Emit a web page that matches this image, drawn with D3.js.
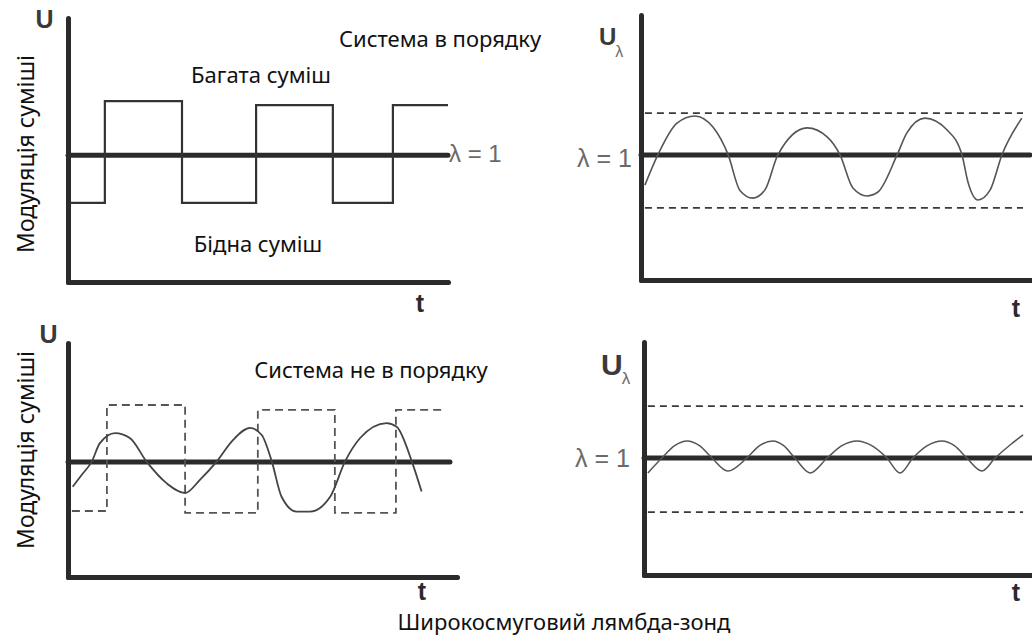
<!DOCTYPE html>
<html>
<head>
<meta charset="utf-8">
<script src="https://cdn.jsdelivr.net/npm/d3@7"></script>
<style>
  html, body { margin: 0; background: #fff; }
  svg { display: block; }
</style>
</head>
<body>
<svg id="chart" width="1032" height="637"></svg>
<script>
// ---- Data (t and U in relative units, 0..10 on each axis) ----

// Mixture control signal, system OK: rich / lean steps
const okMixture = [[0.05,3.0],[0.97,3.0],[0.97,6.85],[3.0,6.85],[3.0,3.0],[4.95,3.0],[4.95,6.7],
                   [6.97,6.7],[6.97,3.0],[8.55,3.0],[8.55,6.7],[10,6.7]];

// Sensor voltage, system OK: full swing between the limits
const okSensor = [[0.10,3.58],[0.43,4.72],[0.92,5.92],[1.38,6.19],[1.84,5.77],[2.23,4.72],[2.53,3.38],
                  [2.86,3.09],[3.17,3.40],[3.50,4.72],[4.25,5.74],[4.76,5.40],[5.09,4.72],[5.42,3.47],
                  [5.78,3.17],[6.06,3.32],[6.55,4.72],[6.80,5.55],[7.26,6.11],[7.83,5.66],[8.21,4.72],
                  [8.36,3.71],[8.62,3.02],[8.93,3.40],[9.23,4.72],[9.74,6.11]];

// Mixture control signal, faulty system (dashed steps)
const faultMixture = [[0.1,2.82],[1.0,2.82],[1.0,7.35],[3.01,7.35],[3.01,2.74],[4.88,2.74],[4.88,7.14],
                      [6.86,7.14],[6.86,2.74],[8.43,2.74],[8.43,7.14],[9.69,7.14]];

// Actual mixture response, faulty system
const faultResponse = [[0.12,3.86],[0.35,4.36],[0.61,4.93],[0.82,5.72],[1.21,6.15],[1.59,5.94],[2.02,4.93],
                       [2.54,4.0],[3.01,3.59],[3.39,4.15],[3.82,4.93],[4.24,5.85],[4.68,6.37],[4.98,6.07],
                       [5.24,4.93],[5.49,3.43],[5.88,2.79],[6.22,2.79],[6.74,3.43],[7.12,4.93],[7.51,5.94],
                       [8.19,6.58],[8.45,6.42],[8.84,4.93],[9.09,3.65]];

// Sensor voltage, faulty system: small swing around λ = 1
const faultSensor = [[0.1,4.38],[0.46,5.02],[0.79,5.55],[1.11,5.75],[1.43,5.55],[1.75,5.02],[2.16,4.46],
                     [2.65,5.02],[2.98,5.55],[3.32,5.75],[3.6,5.55],[3.89,5.02],[4.28,4.38],[4.72,5.02],
                     [5.1,5.55],[5.49,5.75],[5.87,5.55],[6.26,5.02],[6.6,4.38],[6.93,5.02],[7.3,5.55],
                     [7.68,5.75],[8.0,5.55],[8.32,5.02],[8.71,4.46],[9.05,5.02],[9.45,5.6],[9.77,6.01]];

// λ = 1 level in each panel (TL, TR, BL, BR)
const lambdaOne = [4.8, 4.72, 4.91, 5.02];
// λ = 1 line end (t) in each panel
const lambdaEnd = [10, 9.95, 9.82, 10];
// Sensor voltage limits (dashed), top-right and bottom-right
const limitsOk = [2.72, 6.3];
const limitsFault = [2.7, 7.25];

// Text
const yTitle = "Модуляція суміші";
const titleOk = "Система в порядку";
const titleFault = "Система не в порядку";
const richLabel = "Багата суміш";
const leanLabel = "Бідна суміш";
const caption = "Широкосмуговий лямбда-зонд";
const lambdaLabel = "λ = 1";

// ---- Layout ----
const panels = [
  { x: [68, 448],  y: [282, 18]  },
  { x: [641, 1032], y: [280, 15] },
  { x: [68, 457],  y: [577, 343] },
  { x: [644, 1032], y: [575, 342] }
];

const svg = d3.select("#chart");
const INK = "#2b2b2b";
const GREY = "#6a6a6a";
const textFont = "'Noto Sans', 'Open Sans', sans-serif";
const symFont = "'Liberation Sans', Arial, sans-serif";

function scalesFor(p) {
  return {
    x: d3.scaleLinear().domain([0, 10]).range(p.x),
    y: d3.scaleLinear().domain([0, 10]).range(p.y)
  };
}

function drawAxes(g, s) {
  const yAxis = d3.axisLeft(s.y).tickValues([]).tickSizeOuter(0);
  const xAxis = d3.axisBottom(s.x).tickValues([]).tickSizeOuter(0);
  const ya = g.append("g").attr("transform", `translate(${s.x.range()[0]},0)`).call(yAxis);
  const xa = g.append("g").attr("transform", `translate(0,${s.y.range()[0]})`).call(xAxis);
  [ya, xa].forEach(a => a.select(".domain")
    .attr("stroke", INK).attr("stroke-width", 5).attr("stroke-linecap", "round"));
}

function path(g, s, data, opts) {
  const line = d3.line().x(d => s.x(d[0])).y(d => s.y(d[1])).curve(opts.curve || d3.curveLinear);
  return g.append("path").datum(data)
    .attr("d", line)
    .attr("fill", "none")
    .attr("stroke", opts.color || INK)
    .attr("stroke-width", opts.width || 2)
    .attr("stroke-dasharray", opts.dash || null)
    .attr("stroke-linejoin", "miter")
    .attr("stroke-linecap", opts.cap || "butt");
}

const sc = panels.map(scalesFor);
const groups = panels.map(() => svg.append("g"));

// Axes
groups.forEach((g, i) => drawAxes(g, sc[i]));

// λ = 1 reference lines
groups.forEach((g, i) => {
  path(g, sc[i], [[0, lambdaOne[i]], [lambdaEnd[i], lambdaOne[i]]], { width: 5, color: INK, cap: "round" });
});

// Dashed sensor limits
[limitsOk, limitsFault].forEach((lims, k) => {
  const i = k === 0 ? 1 : 3;
  lims.forEach(v => path(groups[i], sc[i], [[0.1, v], [9.77, v]],
    { width: 1.8, color: "#3a3a3a", dash: "7,5" }));
});

const smooth = d3.curveMonotoneX;

// Top-left: control steps
path(groups[0], sc[0], okMixture, { width: 2.2, color: "#333" });
// Top-right: sensor voltage
path(groups[1], sc[1], okSensor, { width: 1.6, color: "#555", curve: smooth });
// Bottom-left: dashed control steps + response
path(groups[2], sc[2], faultMixture, { width: 1.8, color: "#555", dash: "8,5" });
path(groups[2], sc[2], faultResponse, { width: 1.8, color: "#444", curve: smooth });
// Bottom-right: sensor voltage
path(groups[3], sc[3], faultSensor, { width: 1.5, color: "#555", curve: smooth });

// ---- Text ----
function txt(x, y, s, o) {
  return svg.append("text")
    .attr("x", x).attr("y", y)
    .attr("text-anchor", o.anchor || "start")
    .attr("font-family", o.family || textFont)
    .attr("font-size", o.size || 22)
    .attr("font-weight", o.weight || "normal")
    .attr("fill", o.color || "#111")
    .attr("transform", o.rotate ? `rotate(-90,${x},${y})` : null)
    .text(s);
}

// Vertical axis titles
txt(34, 154, yTitle, { anchor: "middle", size: 23, rotate: true });
txt(34, 450, yTitle, { anchor: "middle", size: 23, rotate: true });

// Panel annotations
txt(440, 47, titleOk, { anchor: "middle", size: 22 });
txt(261, 83, richLabel, { anchor: "middle", size: 22 });
txt(258, 252, leanLabel, { anchor: "middle", size: 22 });
txt(371, 378, titleFault, { anchor: "middle", size: 22 });
txt(564, 630, caption, { anchor: "middle", size: 22 });

// λ = 1 labels
txt(449, 162, lambdaLabel, { family: symFont, size: 24, color: GREY });
txt(632, 167, lambdaLabel, { family: symFont, size: 25, color: GREY, anchor: "end" });
txt(630, 467, lambdaLabel, { family: symFont, size: 25, color: GREY, anchor: "end" });

// U axis symbols
txt(44.5, 28, "U", { family: symFont, size: 25, weight: "bold", color: "#3a3a3a", anchor: "middle" });
txt(48.5, 343, "U", { family: symFont, size: 25, weight: "bold", color: "#3a3a3a", anchor: "middle" });
[[599, 45, 24, 57, 16], [601, 375, 30, 384, 17]].forEach(([x, y, fs, sy, ss]) => {
  const t = txt(x, y, "U", { family: symFont, size: fs, weight: "bold", color: "#3a3a3a" });
  const w = t.node().getComputedTextLength();
  txt(x + w - 1, sy, "λ", { family: symFont, size: ss, color: GREY });
});

// t axis symbols
[[420, 312], [1016, 317], [422, 600], [1016, 601]].forEach(([x, y]) =>
  txt(x, y, "t", { family: symFont, size: 25, weight: "bold", color: "#2b2b2b", anchor: "middle" }));
</script>
</body>
</html>
